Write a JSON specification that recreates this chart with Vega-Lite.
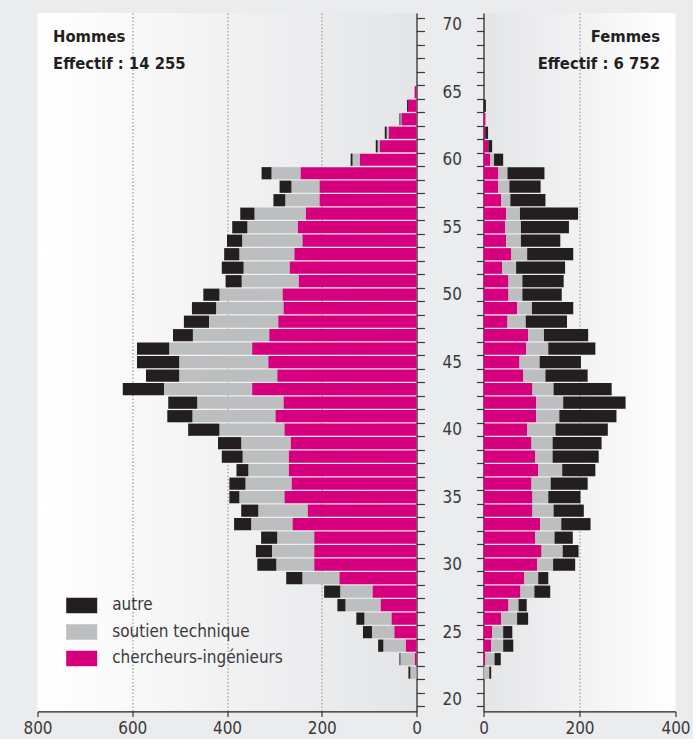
{
  "$schema": "https://vega.github.io/schema/vega-lite/v6.json",
  "background": "#ebecee",
  "padding": {"left": 22.5, "top": 13, "right": 2, "bottom": 2},
  "spacing": 67,
  "bounds": "flush",
  "config": {
    "font": "DejaVu Sans Condensed, sans-serif",
    "view": {"stroke": null},
    "axis": {
      "labelFont": "DejaVu Sans Condensed, sans-serif",
      "labelFontSize": 17,
      "labelColor": "#3a3a3a",
      "domainColor": "#231f20",
      "domainWidth": 1.2,
      "tickColor": "#3a3a3a",
      "tickWidth": 1.2,
      "gridColor": "#9c9c9c",
      "gridDash": [1.5, 2],
      "gridWidth": 1.2,
      "title": null
    },
    "title": {"font": "DejaVu Sans Condensed, sans-serif", "subtitleFont": "DejaVu Sans Condensed, sans-serif"}
  },
  "datasets": {
    "categories": [
      {"cat": "chercheurs-ingénieurs", "rang": 1},
      {"cat": "soutien technique", "rang": 2},
      {"cat": "autre", "rang": 3}
    ],
    "hommes": [
      {"age": 65, "chercheurs-ingénieurs": 4, "soutien technique": 0, "autre": 0},
      {"age": 64, "chercheurs-ingénieurs": 18, "soutien technique": 0, "autre": 2},
      {"age": 63, "chercheurs-ingénieurs": 32, "soutien technique": 2, "autre": 2},
      {"age": 62, "chercheurs-ingénieurs": 59, "soutien technique": 4, "autre": 4},
      {"age": 61, "chercheurs-ingénieurs": 78, "soutien technique": 4, "autre": 4},
      {"age": 60, "chercheurs-ingénieurs": 120, "soutien technique": 15, "autre": 4},
      {"age": 59, "chercheurs-ingénieurs": 245, "soutien technique": 61, "autre": 21},
      {"age": 58, "chercheurs-ingénieurs": 205, "soutien technique": 59, "autre": 25},
      {"age": 57, "chercheurs-ingénieurs": 205, "soutien technique": 72, "autre": 25},
      {"age": 56, "chercheurs-ingénieurs": 234, "soutien technique": 108, "autre": 30},
      {"age": 55, "chercheurs-ingénieurs": 251, "soutien technique": 106, "autre": 32},
      {"age": 54, "chercheurs-ingénieurs": 241, "soutien technique": 127, "autre": 32},
      {"age": 53, "chercheurs-ingénieurs": 258, "soutien technique": 116, "autre": 32},
      {"age": 52, "chercheurs-ingénieurs": 268, "soutien technique": 97, "autre": 46},
      {"age": 51, "chercheurs-ingénieurs": 249, "soutien technique": 120, "autre": 34},
      {"age": 50, "chercheurs-ingénieurs": 283, "soutien technique": 133, "autre": 34},
      {"age": 49, "chercheurs-ingénieurs": 281, "soutien technique": 142, "autre": 51},
      {"age": 48, "chercheurs-ingénieurs": 292, "soutien technique": 146, "autre": 53},
      {"age": 47, "chercheurs-ingénieurs": 311, "soutien technique": 161, "autre": 42},
      {"age": 46, "chercheurs-ingénieurs": 347, "soutien technique": 175, "autre": 68},
      {"age": 45, "chercheurs-ingénieurs": 313, "soutien technique": 188, "autre": 89},
      {"age": 44, "chercheurs-ingénieurs": 294, "soutien technique": 207, "autre": 70},
      {"age": 43, "chercheurs-ingénieurs": 347, "soutien technique": 186, "autre": 87},
      {"age": 42, "chercheurs-ingénieurs": 281, "soutien technique": 182, "autre": 61},
      {"age": 41, "chercheurs-ingénieurs": 298, "soutien technique": 175, "autre": 53},
      {"age": 40, "chercheurs-ingénieurs": 279, "soutien technique": 137, "autre": 66},
      {"age": 39, "chercheurs-ingénieurs": 266, "soutien technique": 104, "autre": 49},
      {"age": 38, "chercheurs-ingénieurs": 270, "soutien technique": 97, "autre": 44},
      {"age": 37, "chercheurs-ingénieurs": 270, "soutien technique": 85, "autre": 25},
      {"age": 36, "chercheurs-ingénieurs": 264, "soutien technique": 97, "autre": 34},
      {"age": 35, "chercheurs-ingénieurs": 279, "soutien technique": 95, "autre": 21},
      {"age": 34, "chercheurs-ingénieurs": 230, "soutien technique": 104, "autre": 36},
      {"age": 33, "chercheurs-ingénieurs": 262, "soutien technique": 87, "autre": 36},
      {"age": 32, "chercheurs-ingénieurs": 216, "soutien technique": 78, "autre": 34},
      {"age": 31, "chercheurs-ingénieurs": 216, "soutien technique": 89, "autre": 34},
      {"age": 30, "chercheurs-ingénieurs": 216, "soutien technique": 80, "autre": 40},
      {"age": 29, "chercheurs-ingénieurs": 163, "soutien technique": 78, "autre": 34},
      {"age": 28, "chercheurs-ingénieurs": 93, "soutien technique": 68, "autre": 34},
      {"age": 27, "chercheurs-ingénieurs": 76, "soutien technique": 74, "autre": 17},
      {"age": 26, "chercheurs-ingénieurs": 53, "soutien technique": 57, "autre": 17},
      {"age": 25, "chercheurs-ingénieurs": 47, "soutien technique": 47, "autre": 19},
      {"age": 24, "chercheurs-ingénieurs": 23, "soutien technique": 47, "autre": 11},
      {"age": 23, "chercheurs-ingénieurs": 4, "soutien technique": 30, "autre": 2},
      {"age": 22, "chercheurs-ingénieurs": 0, "soutien technique": 13, "autre": 4}
    ],
    "femmes": [
      {"age": 64, "chercheurs-ingénieurs": 0, "soutien technique": 0, "autre": 5},
      {"age": 63, "chercheurs-ingénieurs": 4, "soutien technique": 0, "autre": 0},
      {"age": 62, "chercheurs-ingénieurs": 3.5, "soutien technique": 0, "autre": 6},
      {"age": 61, "chercheurs-ingénieurs": 10, "soutien technique": 0, "autre": 8},
      {"age": 60, "chercheurs-ingénieurs": 14, "soutien technique": 8, "autre": 19},
      {"age": 59, "chercheurs-ingénieurs": 31, "soutien technique": 19, "autre": 77},
      {"age": 58, "chercheurs-ingénieurs": 31, "soutien technique": 23, "autre": 65},
      {"age": 57, "chercheurs-ingénieurs": 37, "soutien technique": 19, "autre": 73},
      {"age": 56, "chercheurs-ingénieurs": 47, "soutien technique": 29, "autre": 121},
      {"age": 55, "chercheurs-ingénieurs": 45, "soutien technique": 33, "autre": 100},
      {"age": 54, "chercheurs-ingénieurs": 47, "soutien technique": 31, "autre": 82},
      {"age": 53, "chercheurs-ingénieurs": 58, "soutien technique": 33, "autre": 96},
      {"age": 52, "chercheurs-ingénieurs": 39, "soutien technique": 29, "autre": 102},
      {"age": 51, "chercheurs-ingénieurs": 52, "soutien technique": 29, "autre": 86},
      {"age": 50, "chercheurs-ingénieurs": 52, "soutien technique": 29, "autre": 82},
      {"age": 49, "chercheurs-ingénieurs": 70, "soutien technique": 31, "autre": 86},
      {"age": 48, "chercheurs-ingénieurs": 50, "soutien technique": 38, "autre": 86},
      {"age": 47, "chercheurs-ingénieurs": 93, "soutien technique": 33, "autre": 92},
      {"age": 46, "chercheurs-ingénieurs": 89, "soutien technique": 46, "autre": 98},
      {"age": 45, "chercheurs-ingénieurs": 75, "soutien technique": 42, "autre": 86},
      {"age": 44, "chercheurs-ingénieurs": 83, "soutien technique": 46, "autre": 88},
      {"age": 43, "chercheurs-ingénieurs": 102, "soutien technique": 44, "autre": 121},
      {"age": 42, "chercheurs-ingénieurs": 110, "soutien technique": 56, "autre": 130},
      {"age": 41, "chercheurs-ingénieurs": 110, "soutien technique": 48, "autre": 119},
      {"age": 40, "chercheurs-ingénieurs": 91, "soutien technique": 59, "autre": 109},
      {"age": 39, "chercheurs-ingénieurs": 100, "soutien technique": 44, "autre": 102},
      {"age": 38, "chercheurs-ingénieurs": 108, "soutien technique": 36, "autre": 96},
      {"age": 37, "chercheurs-ingénieurs": 114, "soutien technique": 50, "autre": 69},
      {"age": 36, "chercheurs-ingénieurs": 100, "soutien technique": 40, "autre": 77},
      {"age": 35, "chercheurs-ingénieurs": 102, "soutien technique": 33, "autre": 67},
      {"age": 34, "chercheurs-ingénieurs": 102, "soutien technique": 44, "autre": 63},
      {"age": 33, "chercheurs-ingénieurs": 118, "soutien technique": 44, "autre": 61},
      {"age": 32, "chercheurs-ingénieurs": 108, "soutien technique": 40, "autre": 38},
      {"age": 31, "chercheurs-ingénieurs": 121, "soutien technique": 44, "autre": 33},
      {"age": 30, "chercheurs-ingénieurs": 112, "soutien technique": 33, "autre": 46},
      {"age": 29, "chercheurs-ingénieurs": 85, "soutien technique": 29, "autre": 21},
      {"age": 28, "chercheurs-ingénieurs": 77, "soutien technique": 29, "autre": 33},
      {"age": 27, "chercheurs-ingénieurs": 52, "soutien technique": 21, "autre": 17},
      {"age": 26, "chercheurs-ingénieurs": 37, "soutien technique": 33, "autre": 23},
      {"age": 25, "chercheurs-ingénieurs": 18, "soutien technique": 23, "autre": 19},
      {"age": 24, "chercheurs-ingénieurs": 16, "soutien technique": 25, "autre": 21},
      {"age": 23, "chercheurs-ingénieurs": 4, "soutien technique": 19, "autre": 13},
      {"age": 22, "chercheurs-ingénieurs": 0, "soutien technique": 12, "autre": 4}
    ]
  },
  "resolve": {"scale": {"x": "independent", "y": "independent", "color": "shared"}, "legend": {"color": "shared"}},
  "hconcat": [
    {
      "width": 379,
      "height": 698.4,
      "view": {"stroke": null, "fill": {"gradient": "linear", "x1": 0, "y1": 0, "x2": 1, "y2": 0, "stops": [{"offset": 0, "color": "#ffffff"}, {"offset": 1, "color": "#e4e5e7"}]}},
      "title": {"text": "Hommes", "subtitle": "Effectif : 14 255", "anchor": "start", "frame": "group", "offset": -59.5, "dx": 15.5, "fontSize": 16.5, "fontWeight": "bold", "color": "#231f20", "subtitleFontSize": 16.5, "subtitleFontWeight": "bold", "subtitleColor": "#231f20", "subtitlePadding": 10.5},
      "data": {"name": "hommes"},
      "transform": [
        {"fold": ["chercheurs-ingénieurs", "soutien technique", "autre"], "as": ["cat", "n"]},
        {"lookup": "cat", "from": {"data": {"name": "categories"}, "key": "cat", "fields": ["rang"]}}
      ],
      "mark": {"type": "bar", "orient": "horizontal", "height": 12.2},
      "encoding": {
        "y": {"field": "age", "type": "quantitative", "scale": {"domain": [19.5, 70.5], "nice": false, "zero": false},
          "axis": {"orient": "right", "values": [19.5,20.5,21.5,22.5,23.5,24.5,25.5,26.5,27.5,28.5,29.5,30.5,31.5,32.5,33.5,34.5,35.5,36.5,37.5,38.5,39.5,40.5,41.5,42.5,43.5,44.5,45.5,46.5,47.5,48.5,49.5,50.5,51.5,52.5,53.5,54.5,55.5,56.5,57.5,58.5,59.5,60.5,61.5,62.5,63.5,64.5,65.5,66.5,67.5,68.5,69.5,70.5], "labels": false, "tickSize": 8, "grid": false}},
        "x": {"field": "n", "type": "quantitative", "stack": "zero", "scale": {"domain": [0, 800], "reverse": true, "nice": false},
          "axis": {"values": [0, 200, 400, 600, 800], "grid": true, "labelFlush": false, "tickSize": 5, "labelPadding": 4.5, "gridOpacity": {"condition": {"test": "datum.value == 0 || datum.value == 800", "value": 0}, "value": 1}}},
        "color": {"field": "cat", "type": "nominal", "scale": {"domain": ["autre", "soutien technique", "chercheurs-ingénieurs"], "range": ["#231f20", "#bcbec0", "#d6007f"]},
          "legend": {"orient": "none", "legendX": 28.7, "legendY": 577, "title": null, "symbolType": "M-1,-0.5H1V0.5H-1Z", "symbolSize": 961, "symbolStrokeWidth": 0, "symbolOpacity": 1, "labelFontSize": 17, "labelLimit": 0, "labelColor": "#3a3a3a", "labelFont": "DejaVu Sans Condensed, sans-serif", "labelOffset": 15, "rowPadding": 2.5, "padding": 0}},
        "order": {"field": "rang", "type": "quantitative"}
      }
    },
    {
      "width": 192,
      "height": 698.4,
      "view": {"stroke": null, "fill": {"gradient": "linear", "x1": 0, "y1": 0, "x2": 1, "y2": 0, "stops": [{"offset": 0, "color": "#e4e5e7"}, {"offset": 1, "color": "#ffffff"}]}},
      "title": {"text": "Femmes", "subtitle": "Effectif : 6 752", "anchor": "end", "frame": "group", "offset": -59.5, "dx": -15.5, "fontSize": 16.5, "fontWeight": "bold", "color": "#231f20", "subtitleFontSize": 16.5, "subtitleFontWeight": "bold", "subtitleColor": "#231f20", "subtitlePadding": 10.5},
      "data": {"name": "femmes"},
      "transform": [
        {"fold": ["chercheurs-ingénieurs", "soutien technique", "autre"], "as": ["cat", "n"]},
        {"lookup": "cat", "from": {"data": {"name": "categories"}, "key": "cat", "fields": ["rang"]}}
      ],
      "mark": {"type": "bar", "orient": "horizontal", "height": 12.2},
      "encoding": {
        "y": {"field": "age", "type": "quantitative", "scale": {"domain": [19.5, 70.5], "nice": false, "zero": false},
          "axis": {"orient": "left", "values": [19.5,20.5,21.5,22.5,23.5,24.5,25.5,26.5,27.5,28.5,29.5,30.5,31.5,32.5,33.5,34.5,35.5,36.5,37.5,38.5,39.5,40.5,41.5,42.5,43.5,44.5,45.5,46.5,47.5,48.5,49.5,50.5,51.5,52.5,53.5,54.5,55.5,56.5,57.5,58.5,59.5,60.5,61.5,62.5,63.5,64.5,65.5,66.5,67.5,68.5,69.5,70.5], "labelExpr": "(datum.value - 0.5) % 5 == 0 ? '' + (datum.value - 0.5) : ''", "labelOffset": 6.85, "labelOverlap": false, "labelPadding": 15, "tickSize": 7, "grid": false}},
        "x": {"field": "n", "type": "quantitative", "stack": "zero", "scale": {"domain": [0, 400], "nice": false},
          "axis": {"values": [0, 200, 400], "grid": true, "labelFlush": false, "tickSize": 5, "labelPadding": 4.5, "gridOpacity": {"condition": {"test": "datum.value == 0 || datum.value == 400", "value": 0}, "value": 1}}},
        "color": {"field": "cat", "type": "nominal", "scale": {"domain": ["autre", "soutien technique", "chercheurs-ingénieurs"], "range": ["#231f20", "#bcbec0", "#d6007f"]},
          "legend": {"orient": "none", "legendX": 28.7, "legendY": 577, "title": null, "symbolType": "M-1,-0.5H1V0.5H-1Z", "symbolSize": 961, "symbolStrokeWidth": 0, "symbolOpacity": 1, "labelFontSize": 17, "labelLimit": 0, "labelColor": "#3a3a3a", "labelFont": "DejaVu Sans Condensed, sans-serif", "labelOffset": 15, "rowPadding": 2.5, "padding": 0}},
        "order": {"field": "rang", "type": "quantitative"}
      }
    }
  ]
}
